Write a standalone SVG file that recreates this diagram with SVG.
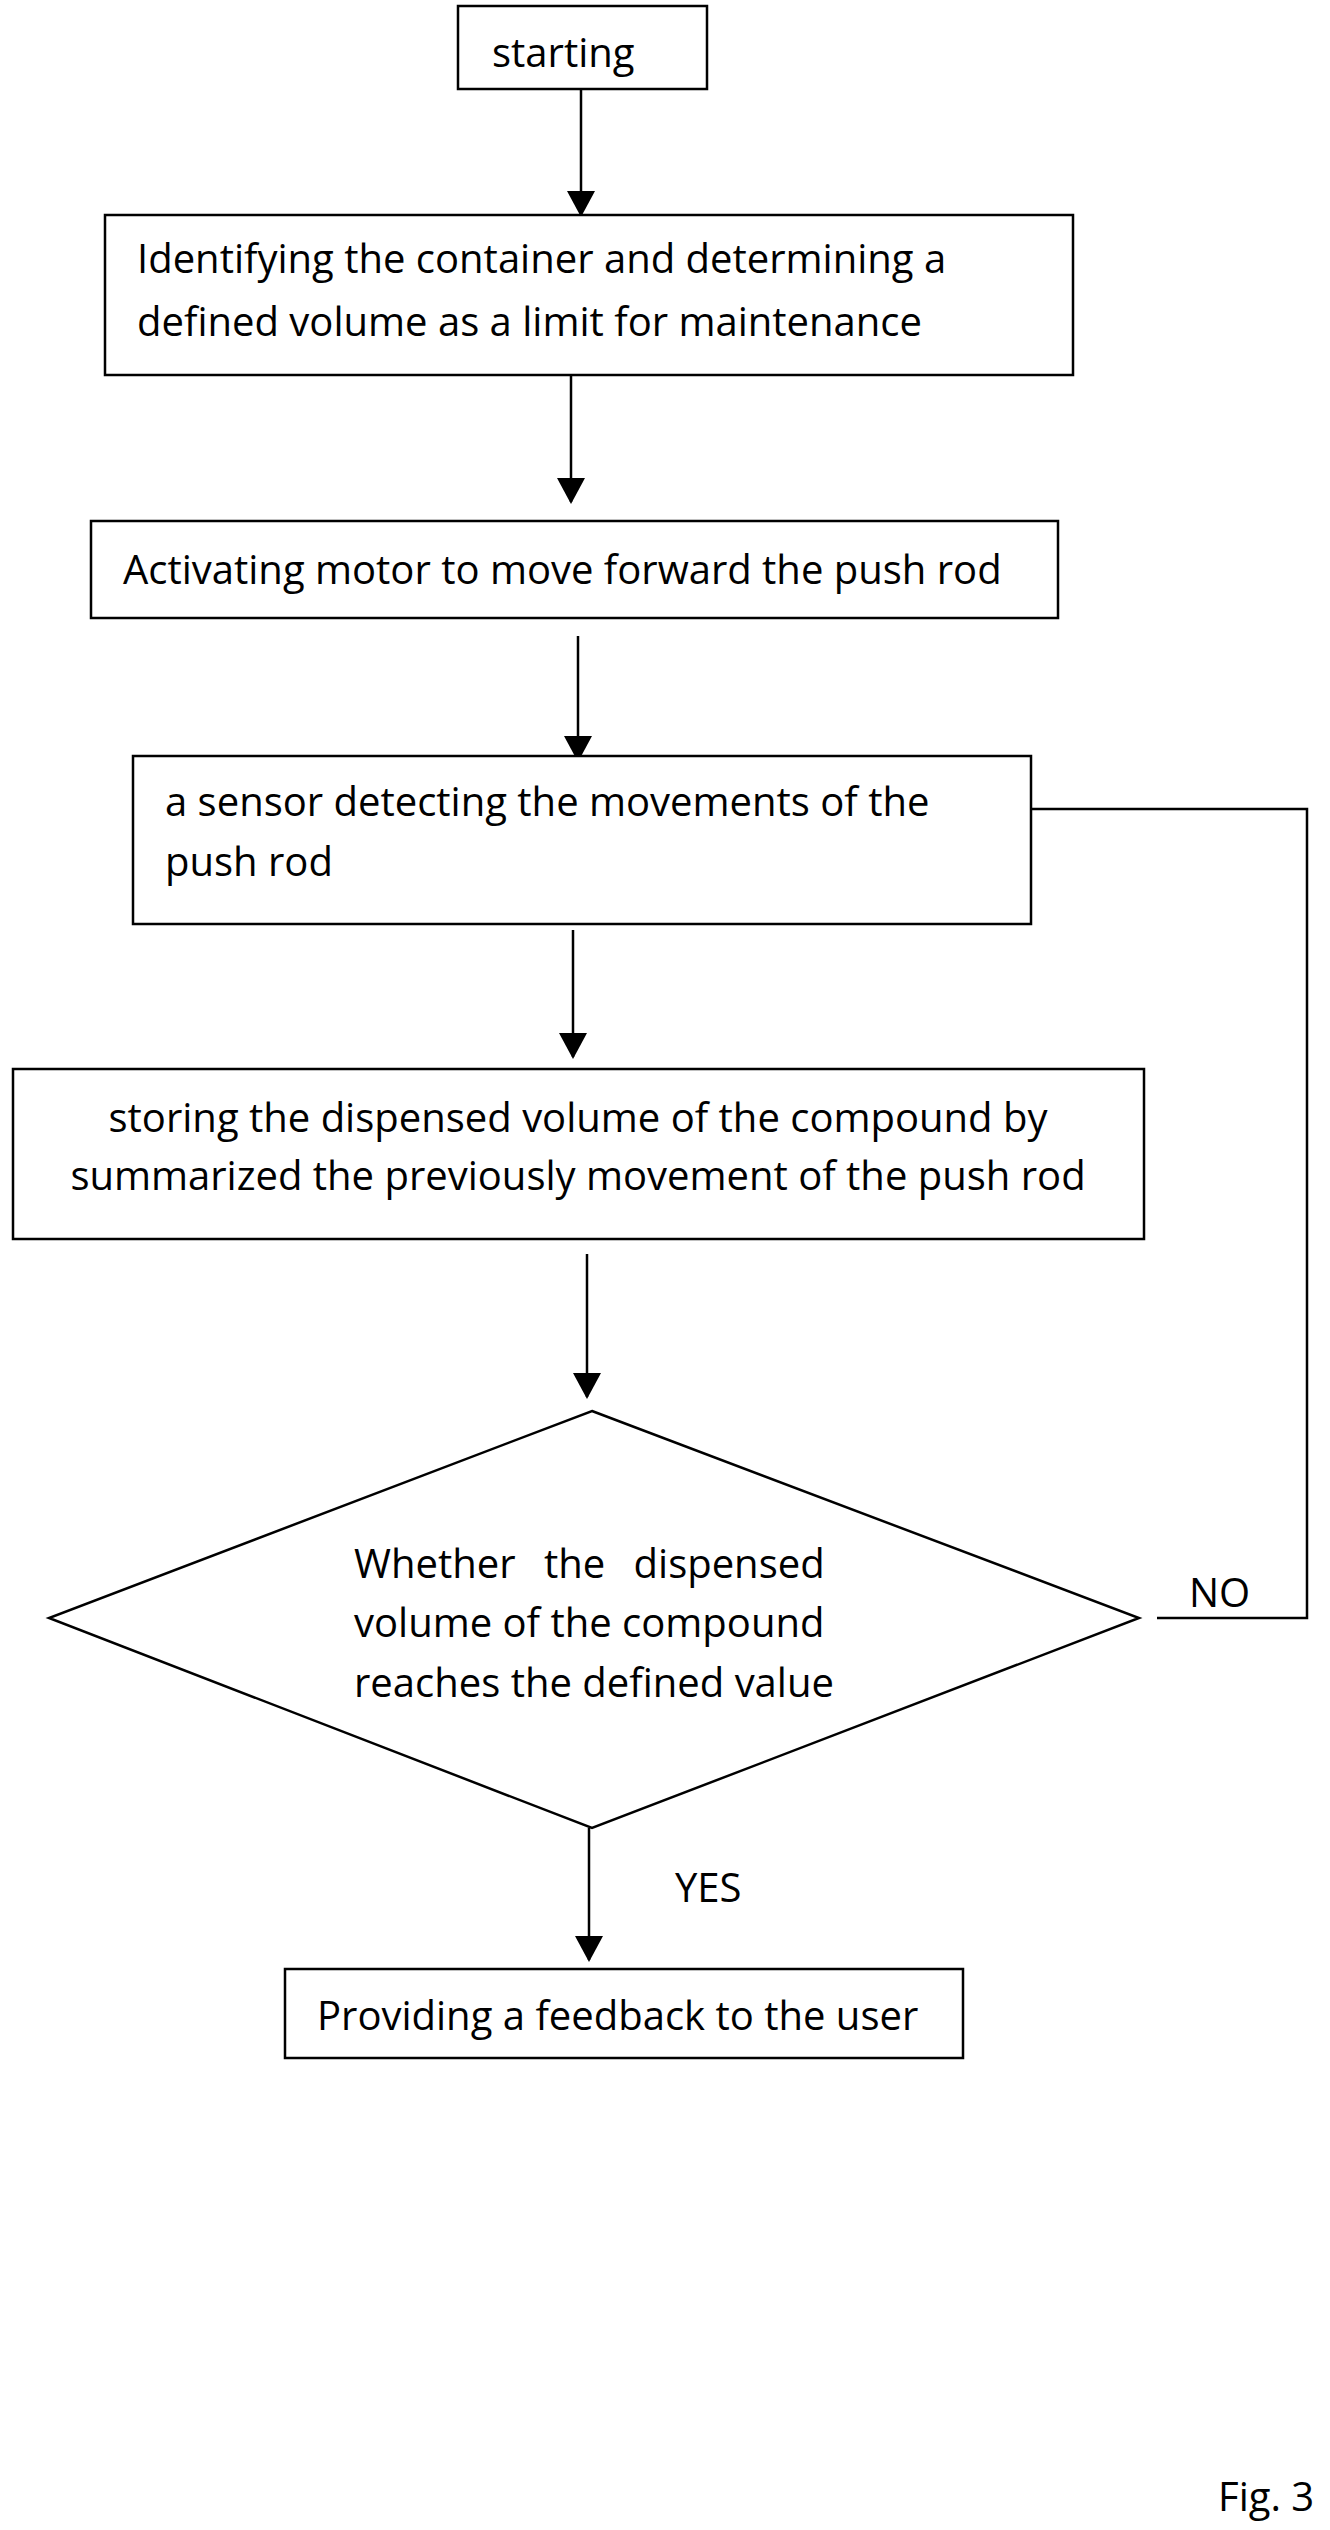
<svg xmlns="http://www.w3.org/2000/svg" width="1330" height="2530" viewBox="0 0 1330 2530">
<style>
.b{fill:#fff;stroke:#000;stroke-width:2.5}
.l{fill:none;stroke:#000;stroke-width:2.5}
text{font-family:"Open Sans","Liberation Sans",sans-serif;font-size:40px;fill:#000}
</style>
<defs><marker id="a" markerWidth="26" markerHeight="28" refX="24" refY="14" orient="auto" markerUnits="userSpaceOnUse"><path d="M0,0L26,14L0,28z" fill="#000"/></marker></defs>
<rect width="1330" height="2530" fill="#fff"/>
<g id="connectors">
<line class="l" x1="581" y1="89" x2="581" y2="215" marker-end="url(#a)"/>
<line class="l" x1="571" y1="375" x2="571" y2="502" marker-end="url(#a)"/>
<line class="l" x1="578" y1="636" x2="578" y2="760" marker-end="url(#a)"/>
<line class="l" x1="573" y1="930" x2="573" y2="1057" marker-end="url(#a)"/>
<line class="l" x1="587" y1="1254" x2="587" y2="1397" marker-end="url(#a)"/>
<line class="l" x1="589" y1="1828" x2="589" y2="1960" marker-end="url(#a)"/>
<polyline class="l" points="1031,809 1307,809 1307,1618 1157,1618"/>
<text x="1189" y="1607">NO</text>
<text x="675" y="1902">YES</text>
</g>
<g id="n1"><rect class="b" x="458" y="6" width="249" height="83"/><text x="492" y="67">starting</text></g>
<g id="n2"><rect class="b" x="105" y="215" width="968" height="160"/><text x="137" y="273">Identifying the container and determining a</text><text x="137" y="336">defined volume as a limit for maintenance</text></g>
<g id="n3"><rect class="b" x="91" y="521" width="967" height="97"/><text x="123" y="584">Activating motor to move forward the push rod</text></g>
<g id="n4"><rect class="b" x="133" y="756" width="898" height="168"/><text x="165" y="816">a sensor detecting the movements of the</text><text x="165" y="876">push rod</text></g>
<g id="n5"><rect class="b" x="13" y="1069" width="1131" height="170"/><text x="578" y="1132" text-anchor="middle">storing the dispensed volume of the compound by</text><text x="578" y="1190" text-anchor="middle">summarized the previously movement of the push rod</text></g>
<g id="n6"><polygon class="b" points="592,1411 1139,1618 592,1828 49,1618"/><text x="354" y="1578" word-spacing="18">Whether the dispensed</text><text x="354" y="1637">volume of the compound</text><text x="354" y="1697">reaches the defined value</text></g>
<g id="n7"><rect class="b" x="285" y="1969" width="678" height="89"/><text x="317" y="2030">Providing a feedback to the user</text></g>
<text x="1218" y="2511">Fig. 3</text>
</svg>
